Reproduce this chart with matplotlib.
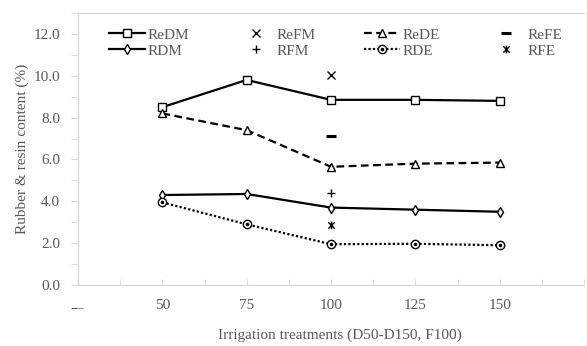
import matplotlib
matplotlib.use('Agg')
import matplotlib.pyplot as plt
from matplotlib.path import Path
from matplotlib.legend_handler import HandlerTuple
from matplotlib.ticker import MultipleLocator, FixedLocator
from matplotlib.transforms import Bbox

# irrigation levels (D50-D150) and the single F100 treatment
irrigation = [50, 75, 100, 125, 150]
f_level = [100]

redm = [8.5, 9.8, 8.85, 8.85, 8.8]
rede = [8.2, 7.4, 5.65, 5.8, 5.85]
rdm = [4.3, 4.35, 3.7, 3.6, 3.5]
rde = [3.95, 2.9, 1.95, 1.97, 1.9]

refm = [10.05]
refe = [7.1]
rfm = [4.4]
rfe = [2.85]

gray = '#595959'
spine_gray = '#d9d9d9'

plt.rcParams['font.family'] = ['Liberation Serif', 'DejaVu Serif']
plt.rcParams['font.size'] = 11

# star marker: an x with a vertical bar through it
star = Path([(-1, -1), (1, 1), (-1, 1), (1, -1), (0, -1.2), (0, 1.2)],
            [Path.MOVETO, Path.LINETO, Path.MOVETO, Path.LINETO, Path.MOVETO, Path.LINETO])

fig = plt.figure(figsize=(5.87, 3.46), dpi=100)
ax = fig.add_axes([78 / 587, 1 - 285 / 346, 0.995 - 78 / 587, (285 - 13) / 346])

h_redm, = ax.plot(irrigation, redm, color='black', lw=1.6, marker='s', ms=5.5,
                  mfc='white', mec='black', mew=1.0, label='ReDM')
h_rdm, = ax.plot(irrigation, rdm, color='black', lw=1.6, marker='d', ms=5.5,
                 mfc='white', mec='black', mew=1.0, label='RDM')
h_rede, = ax.plot(irrigation, rede, color='black', lw=1.6, ls=(0, (3.5, 2)), marker='^', ms=5.5,
                  mfc='white', mec='black', mew=1.0, label='ReDE')
h_rde, = ax.plot(irrigation, rde, color='black', lw=1.6, ls=(0, (1, 1)), marker='o', ms=6,
                 mfc='white', mec='black', mew=1.0, label='RDE')
h_rde_dot, = ax.plot(irrigation, rde, ls='none', marker='o', ms=1.6, color='black')

h_refm, = ax.plot(f_level, refm, ls='none', marker='x', ms=5.5, color='black', mew=1.0)
h_refe, = ax.plot(f_level, refe, ls='none', marker='_', ms=6.5, color='black', mew=2.2)
h_rfm, = ax.plot(f_level, rfm, ls='none', marker='+', ms=6, color='black', mew=1.0)
h_rfe, = ax.plot(f_level, rfe, ls='none', marker=star, ms=5.5, color='black', mew=1.0)

handles = [h_redm, h_rdm, h_refm, h_rfm, h_rede, (h_rde, h_rde_dot), h_refe, h_rfe]
labels = ['ReDM', 'RDM', 'ReFM', 'RFM', 'ReDE', 'RDE', 'ReFE', 'RFE']
ax.legend(handles, labels, ncol=4, loc='upper left', bbox_to_anchor=(0.035, 0.995),
          frameon=False, handlelength=2.3, handletextpad=0.2, columnspacing=3.2,
          labelspacing=0.15, labelcolor=gray, fontsize=11,
          handler_map={tuple: HandlerTuple(ndivide=1)})

ax.set_xlim(25, 175)
ax.set_ylim(0, 13)
ax.xaxis.set_major_locator(FixedLocator([25, 50, 75, 100, 125, 150]))
ax.xaxis.set_minor_locator(MultipleLocator(12.5))
ax.yaxis.set_major_locator(FixedLocator([0, 2, 4, 6, 8, 10, 12]))
ax.yaxis.set_minor_locator(MultipleLocator(1))
ax.yaxis.set_major_formatter(lambda v, pos: f'{v:.1f}')

ax.tick_params(axis='x', which='both', direction='in', length=4, color=spine_gray,
               labelcolor=gray, pad=10)
ax.tick_params(axis='y', which='both', direction='out', length=5, color=spine_gray,
               labelcolor=gray, pad=8)

for side in ['left', 'bottom', 'top']:
    ax.spines[side].set_color(spine_gray)
    ax.spines[side].set_linewidth(1.0)
ax.spines['right'].set_visible(False)

ax.set_ylabel('Rubber & resin content (%)', color=gray, fontsize=11)
ax.yaxis.set_label_coords(-0.097, 0.5)
ax.set_xlabel('Irrigation treatments (D50-D150, F100)', color=gray, fontsize=11)
ax.xaxis.set_label_coords(0.518, -0.16)

# the first category label sits under the plot edge and is mostly hidden
fig.canvas.draw()
first = ax.get_xticklabels()[0]
bb = first.get_window_extent()
first.set_clip_box(Bbox.from_extents(bb.x0, bb.y0, bb.x1, bb.y0 + bb.height * 0.3))
first.set_clip_on(True)

fig.savefig('out.png', dpi=100)
